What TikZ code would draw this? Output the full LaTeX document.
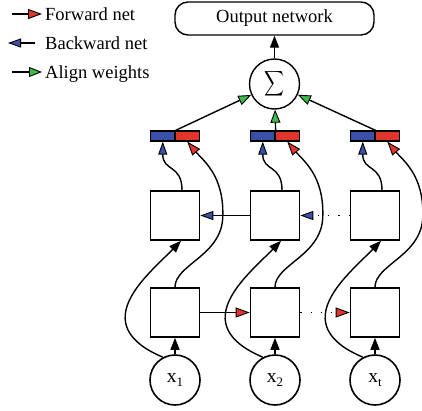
\documentclass[tikz,border=0pt]{standalone}
\usepackage{fontspec}
\setmainfont{Liberation Serif}
\usetikzlibrary{arrows.meta}
\definecolor{fred}{HTML}{E0352B}
\definecolor{bblue}{HTML}{3A4FA6}
\definecolor{agreen}{HTML}{3DBA48}
\tikzset{
  conn/.style={line width=1.4pt},
  blk/.style={-{Triangle[length=12pt,width=9pt,fill=black]}},
  redtip/.style={-{Triangle[length=14pt,width=10pt,fill=fred,line width=0.9pt]}},
  bluetip/.style={-{Triangle[length=13pt,width=9pt,fill=bblue,line width=0.9pt]}},
  greentip/.style={-{Triangle[length=13pt,width=10pt,fill=agreen,line width=0.9pt]}},
  cell/.style={draw,line width=1.6pt,minimum size=49pt,inner sep=0pt,fill=white},
  xin/.style={draw,circle,line width=1.6pt,minimum size=50pt,inner sep=0pt,fill=white,font=\fontsize{19.5}{20}\selectfont},
  half/.style={draw,line width=1.2pt,minimum width=24.5pt,minimum height=10pt,inner sep=0pt},
  lab/.style={font=\fontsize{18.5}{20}\selectfont,anchor=base west,inner sep=0pt},
  dots/.style={dash pattern=on 1.2pt off 9pt}
}
\begin{document}
\begin{tikzpicture}[x=1pt,y=-1pt]
\useasboundingbox (0,0) rectangle (422,410);
% legend
\coordinate (lf1) at (12,14); \coordinate (lf2) at (42,14);
\coordinate (lb1) at (35,43); \coordinate (lb2) at (8,43);
\coordinate (lg1) at (12,72); \coordinate (lg2) at (42,72);
\draw[conn,redtip] (lf1) -- (lf2);
\draw[conn,bluetip] (lb1) -- (lb2);
\draw[conn,greentip] (lg1) -- (lg2);
\node[lab] (tf) at (45,20) {Forward net};
\node[lab] (tb) at (45,49.5) {Backward net};
\node[lab] (tg) at (45,78) {Align weights};
% output
\node[draw,line width=1.4pt,rounded corners=13pt,minimum width=199pt,minimum height=33pt,inner sep=0pt,
  font=\fontsize{18.5}{20}\selectfont] (out) at (274.5,18.5) {Output network};
\node[draw,circle,line width=1.4pt,minimum size=50pt,inner sep=0pt] (S) at (274.5,84)
  {\resizebox*{20pt}{28pt}{$\displaystyle\sum$}};
\draw[conn,blk] (S) -- (out);
\foreach \i/\cx/\s in {1/175/1,2/275/2,3/375/t}{
  \node[xin] (X\i) at (\cx,380) {x\raisebox{-4.5pt}{\fontsize{13}{13}\selectfont\s}};
  \node[cell] (F\i) at (\cx,312.5) {};
  \node[cell] (B\i) at (\cx,215.5) {};
  \node[half,fill=bblue] (L\i) at (\cx-12.25,136) {};
  \node[half,fill=fred] (R\i) at (\cx+12.25,136) {};
  \draw[conn,blk] (X\i) -- (F\i);
  \draw[conn,blk] (X\i.118) .. controls +(-78,-33) and +(-33,34) .. ([xshift=6pt]B\i.south);
  \draw[conn,redtip] (F\i.north) .. controls +(0,-23) and +(0,40) .. ([xshift=22.5pt]B\i.east)
     .. controls +(1,-40) and +(16,19) .. (R\i.south);
  \draw[conn,bluetip] ([xshift=7pt]B\i.north) .. controls +(0,-26) and +(0,30) .. (L\i.south);
  \draw[conn,greentip] (L\i.north east) -- (S);
}
% horizontal
\draw[conn,bluetip] (B2) -- (B1);
\draw[conn,dots,bluetip] (B3.west) -- (B2.east);
\draw[conn,redtip] (F1) -- (F2);
\draw[conn,dots,redtip] (F2.east) -- (F3.west);
\end{tikzpicture}
\end{document}
